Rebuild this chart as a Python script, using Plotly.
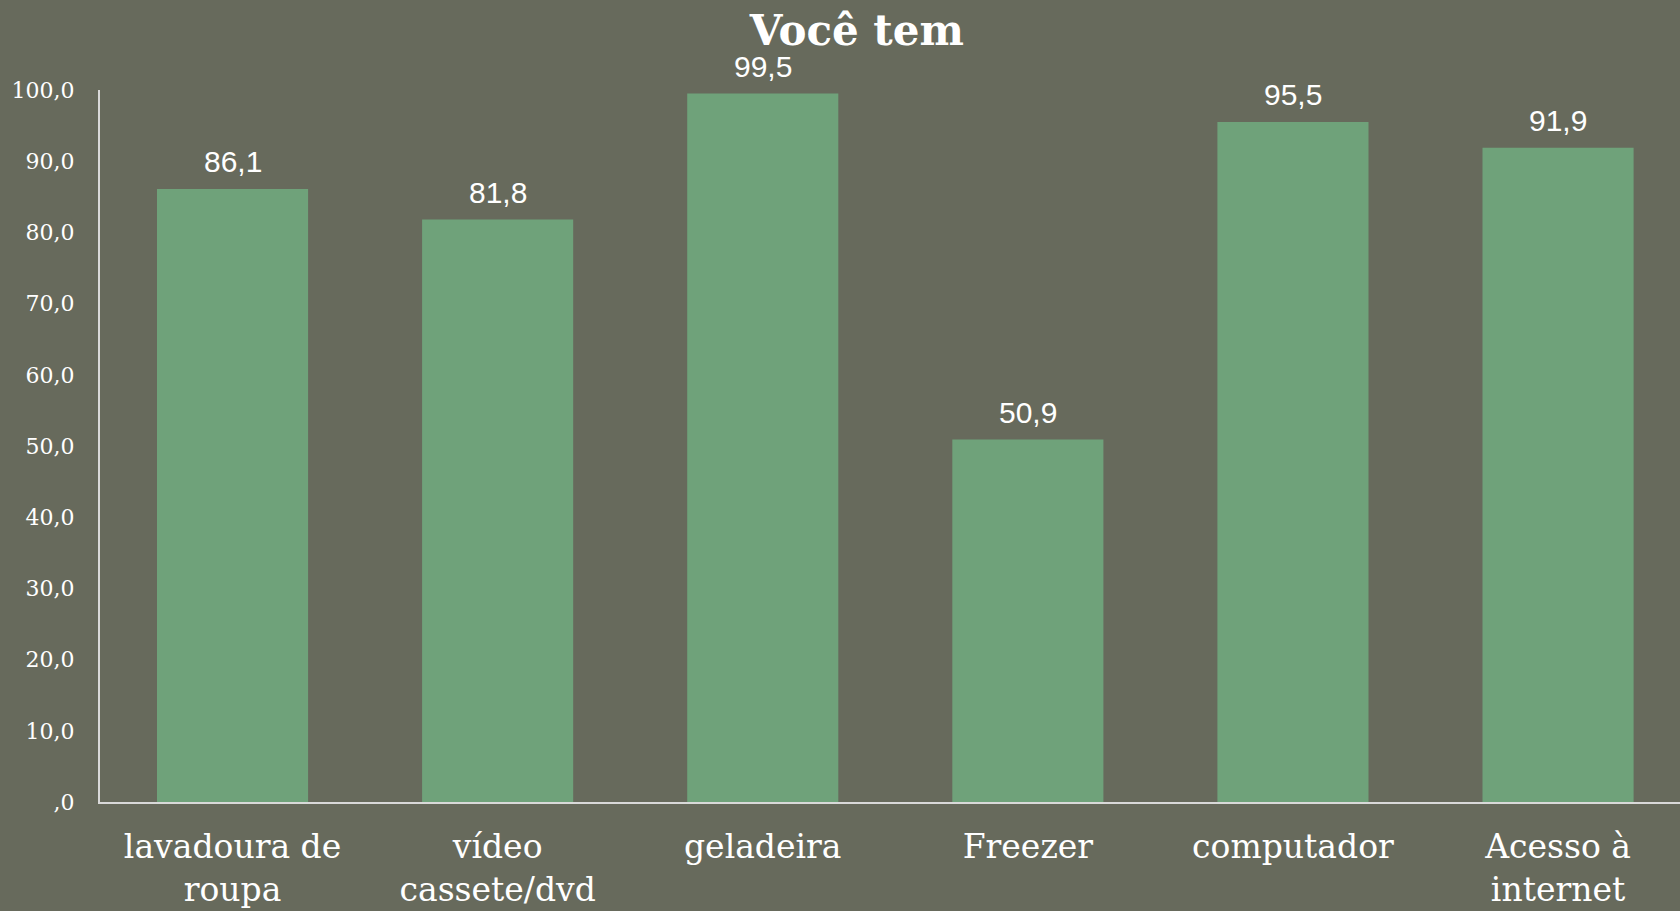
import plotly.graph_objects as go

# data
categories = ["lavadoura de<br>roupa", "vídeo<br>cassete/dvd", "geladeira",
              "Freezer", "computador", "Acesso à<br>internet"]
values = [86.1, 81.8, 99.5, 50.9, 95.5, 91.9]
y_ticks = [0, 10, 20, 30, 40, 50, 60, 70, 80, 90, 100]
y_ticktext = [",0", "10,0", "20,0", "30,0", "40,0", "50,0",
              "60,0", "70,0", "80,0", "90,0", "100,0"]

bg = "#676A5C"
bar_color = "#6FA27A"
serif = "DejaVu Serif"

labels = [f"{v:.1f}".replace(".", ",") for v in values]

fig = go.Figure()

fig.add_trace(go.Bar(
    x=categories,
    y=values,
    marker=dict(color=bar_color, line=dict(width=0)),
    width=0.57,
    hoverinfo="x+y",
))

# value labels sit a bit higher above the bars than textposition="outside" puts them
for cat, v, lab in zip(categories, values, labels):
    fig.add_annotation(
        x=cat, y=v, text=lab, showarrow=False,
        yanchor="bottom", yshift=9,
        font=dict(family="Liberation Sans, Arial", size=30, color="white"),
    )

fig.update_layout(
    width=1680,
    height=911,
    paper_bgcolor=bg,
    plot_bgcolor=bg,
    showlegend=False,
    title=dict(text="<b>Você tem</b>", x=0.51, xanchor="center", y=0.967,
               yanchor="middle", font=dict(family=serif, size=42, color="white")),
    margin=dict(l=100, r=0, t=90, b=109),
    xaxis=dict(
        range=[-0.5, 5.46],
        showline=True, linecolor="#D9D9D9", linewidth=2,
        showgrid=False, ticks="",
        tickfont=dict(family=serif, size=33, color="white"),
        ticklabelstandoff=14,
    ),
    yaxis=dict(
        range=[0, 100],
        tickvals=y_ticks, ticktext=y_ticktext,
        showline=True, linecolor="#D9D9D9", linewidth=2,
        showgrid=False, zeroline=False, ticks="",
        tickfont=dict(family=serif, size=22, color="white"),
        ticklabelstandoff=19,
    ),
)

# drop the default page margin so the chart fills the window
fig.write_html("out.html", config={"displayModeBar": False},
               post_script="document.body.style.margin='0';")
